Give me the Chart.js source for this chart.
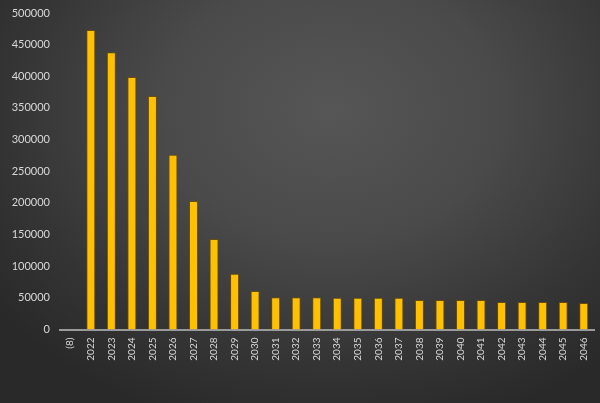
<!DOCTYPE html>
<html>
<head>
<meta charset="utf-8">
<script src="https://cdn.jsdelivr.net/npm/chart.js@4"></script>
<style>
html,body{margin:0;padding:0;}
body{width:600px;height:403px;overflow:hidden;
background: radial-gradient(ellipse 420px 330px at 330px 110px, #565656 0%, #4a4a4a 40%, #353535 75%, #292929 100%);}
#wrap{width:600px;height:403px;position:relative;}
</style>
</head>
<body>
<div id="wrap"><canvas id="c" width="600" height="403"></canvas></div>
<script>
const categories = ['(8)','2022','2023','2024','2025','2026','2027','2028','2029','2030','2031','2032','2033','2034','2035','2036','2037','2038','2039','2040','2041','2042','2043','2044','2045','2046'];
const values = [null,473000,438000,399000,369000,276000,203000,143000,88000,61000,51000,51000,51000,50000,50000,50000,50000,46500,46500,46500,46500,43500,43500,43500,43500,42000];
const yMin = 0, yMax = 500000, yStep = 50000;

new Chart(document.getElementById('c'), {
  type: 'bar',
  data: {
    labels: categories,
    datasets: [{
      data: values,
      backgroundColor: '#FFC000',
      borderColor: 'rgba(110,80,0,0.85)',
      borderWidth: 1,
      barPercentage: 0.44,
      categoryPercentage: 1.0
    }]
  },
  options: {
    responsive: false,
    animation: false,
    layout: { padding: { top: 13, right: 6, left: 0, bottom: 0 } },
    plugins: { legend: { display: false }, tooltip: { enabled: false } },
    scales: {
      x: {
        offset: true,
        grid: { display: false, drawTicks: false },
        border: { display: true, color: '#9a9a9a', width: 2 },
        ticks: {
          color: '#d8d8d8',
          font: { family: 'Lato', size: 10 },
          minRotation: 90, maxRotation: 90,
          padding: 8,
          autoSkip: false
        },
        afterFit: (a) => { a.height = 73.5; a.paddingLeft = 0; a.paddingRight = 0; a.paddingTop = 0; a.paddingBottom = 0; }
      },
      y: {
        min: yMin, max: yMax,
        grid: { display: false, drawTicks: false },
        border: { display: false },
        ticks: {
          stepSize: yStep,
          color: '#d8d8d8',
          font: { family: 'Lato', size: 11 },
          padding: 10,
          callback: (v) => String(v)
        },
        afterFit: (a) => { a.width = 60; a.paddingTop = 0; a.paddingBottom = 0; a.paddingLeft = 0; a.paddingRight = 0; }
      }
    }
  }
});
</script>
</body>
</html>
